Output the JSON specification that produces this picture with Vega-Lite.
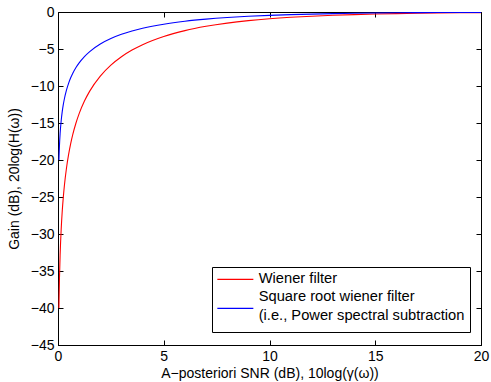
{
  "$schema": "https://vega.github.io/schema/vega-lite/v6.json",
  "width": 423,
  "height": 333,
  "autosize": "none",
  "padding": {"left": 58, "top": 12, "right": 10, "bottom": 37},
  "background": "white",
  "config": {
    "font": "Liberation Sans",
    "view": {"stroke": "black", "strokeWidth": 1},
    "axis": {"grid": false, "domainColor": "black", "tickColor": "black", "labelColor": "black", "titleColor": "black", "labelFontSize": 14, "titleFontSize": 14, "titleFontWeight": "normal", "tickSize": -5, "labelFlush": false}
  },
  "data": {"values": [
    {"x": 0.04365, "gain": -40.0, "s": "Wiener filter"},
    {"x": 0.05, "gain": -38.826, "s": "Wiener filter"},
    {"x": 0.07, "gain": -35.924, "s": "Wiener filter"},
    {"x": 0.1, "gain": -32.855, "s": "Wiener filter"},
    {"x": 0.15, "gain": -29.383, "s": "Wiener filter"},
    {"x": 0.2, "gain": -26.934, "s": "Wiener filter"},
    {"x": 0.25, "gain": -25.046, "s": "Wiener filter"},
    {"x": 0.3, "gain": -23.512, "s": "Wiener filter"},
    {"x": 0.4, "gain": -21.111, "s": "Wiener filter"},
    {"x": 0.5, "gain": -19.271, "s": "Wiener filter"},
    {"x": 0.6, "gain": -17.786, "s": "Wiener filter"},
    {"x": 0.7, "gain": -16.544, "s": "Wiener filter"},
    {"x": 0.85, "gain": -15.004, "s": "Wiener filter"},
    {"x": 1, "gain": -13.736, "s": "Wiener filter"},
    {"x": 1.25, "gain": -12.038, "s": "Wiener filter"},
    {"x": 1.5, "gain": -10.690, "s": "Wiener filter"},
    {"x": 2, "gain": -8.658, "s": "Wiener filter"},
    {"x": 2.5, "gain": -7.177, "s": "Wiener filter"},
    {"x": 3, "gain": -6.041, "s": "Wiener filter"},
    {"x": 3.5, "gain": -5.140, "s": "Wiener filter"},
    {"x": 4, "gain": -4.410, "s": "Wiener filter"},
    {"x": 5, "gain": -3.302, "s": "Wiener filter"},
    {"x": 6, "gain": -2.513, "s": "Wiener filter"},
    {"x": 7, "gain": -1.933, "s": "Wiener filter"},
    {"x": 8, "gain": -1.499, "s": "Wiener filter"},
    {"x": 9, "gain": -1.169, "s": "Wiener filter"},
    {"x": 10, "gain": -0.915, "s": "Wiener filter"},
    {"x": 11, "gain": -0.719, "s": "Wiener filter"},
    {"x": 12, "gain": -0.566, "s": "Wiener filter"},
    {"x": 13, "gain": -0.447, "s": "Wiener filter"},
    {"x": 14, "gain": -0.353, "s": "Wiener filter"},
    {"x": 15, "gain": -0.279, "s": "Wiener filter"},
    {"x": 16, "gain": -0.221, "s": "Wiener filter"},
    {"x": 17, "gain": -0.175, "s": "Wiener filter"},
    {"x": 18, "gain": -0.139, "s": "Wiener filter"},
    {"x": 19, "gain": -0.110, "s": "Wiener filter"},
    {"x": 20, "gain": -0.087, "s": "Wiener filter"},
    {"x": 0.04365, "gain": -20.0, "s": "sqrt"},
    {"x": 0.05, "gain": -19.413, "s": "sqrt"},
    {"x": 0.07, "gain": -17.962, "s": "sqrt"},
    {"x": 0.1, "gain": -16.428, "s": "sqrt"},
    {"x": 0.15, "gain": -14.692, "s": "sqrt"},
    {"x": 0.2, "gain": -13.467, "s": "sqrt"},
    {"x": 0.25, "gain": -12.523, "s": "sqrt"},
    {"x": 0.3, "gain": -11.756, "s": "sqrt"},
    {"x": 0.4, "gain": -10.556, "s": "sqrt"},
    {"x": 0.5, "gain": -9.636, "s": "sqrt"},
    {"x": 0.6, "gain": -8.893, "s": "sqrt"},
    {"x": 0.7, "gain": -8.272, "s": "sqrt"},
    {"x": 0.85, "gain": -7.502, "s": "sqrt"},
    {"x": 1, "gain": -6.868, "s": "sqrt"},
    {"x": 1.25, "gain": -6.019, "s": "sqrt"},
    {"x": 1.5, "gain": -5.345, "s": "sqrt"},
    {"x": 2, "gain": -4.329, "s": "sqrt"},
    {"x": 2.5, "gain": -3.589, "s": "sqrt"},
    {"x": 3, "gain": -3.021, "s": "sqrt"},
    {"x": 3.5, "gain": -2.570, "s": "sqrt"},
    {"x": 4, "gain": -2.205, "s": "sqrt"},
    {"x": 5, "gain": -1.651, "s": "sqrt"},
    {"x": 6, "gain": -1.256, "s": "sqrt"},
    {"x": 7, "gain": -0.967, "s": "sqrt"},
    {"x": 8, "gain": -0.749, "s": "sqrt"},
    {"x": 9, "gain": -0.584, "s": "sqrt"},
    {"x": 10, "gain": -0.458, "s": "sqrt"},
    {"x": 11, "gain": -0.359, "s": "sqrt"},
    {"x": 12, "gain": -0.283, "s": "sqrt"},
    {"x": 13, "gain": -0.223, "s": "sqrt"},
    {"x": 14, "gain": -0.176, "s": "sqrt"},
    {"x": 15, "gain": -0.140, "s": "sqrt"},
    {"x": 16, "gain": -0.110, "s": "sqrt"},
    {"x": 17, "gain": -0.088, "s": "sqrt"},
    {"x": 18, "gain": -0.069, "s": "sqrt"},
    {"x": 19, "gain": -0.055, "s": "sqrt"},
    {"x": 20, "gain": -0.044, "s": "sqrt"}
  ]},
  "layer": [
    {
      "mark": {"type": "line", "strokeWidth": 1.1, "interpolate": "monotone", "clip": true},
      "encoding": {
        "x": {"field": "x", "type": "quantitative", "scale": {"domain": [0, 20], "nice": false, "zero": false},
              "axis": {"values": [0, 5, 10, 15, 20], "title": "A\u2212posteriori SNR (dB), 10log(\u03b3(\u03c9))", "labelPadding": 9, "titlePadding": 3}},
        "y": {"field": "gain", "type": "quantitative", "scale": {"domain": [-45, 0], "nice": false, "zero": false},
              "axis": {"values": [0, -5, -10, -15, -20, -25, -30, -35, -40, -45], "title": "Gain (dB), 20log(H(\u03c9))", "labelPadding": 9, "titlePadding": 9}},
        "color": {"field": "s", "type": "nominal",
                  "scale": {"domain": ["Wiener filter", "sqrt"], "range": ["#ff0000", "#0000ff"]},
                  "legend": {"title": null, "orient": "none", "legendX": 154, "legendY": 255,
                             "symbolType": "M0,-1M-3,0H3M0,2.57", "symbolSize": 144, "symbolStrokeWidth": 1.2, "symbolFillColor": "transparent",
                             "symbolOffset": 11,
                             "labelFontSize": 14.7, "labelColor": "black", "labelOffset": 16, "labelLimit": 400,
                             "labelExpr": "datum.label == 'sqrt' ? ['Square root wiener filter', '(i.e., Power spectral subtraction'] : datum.label",
                             "strokeColor": "black", "fillColor": "white", "padding": 5, "rowPadding": -9,
                             "encode": {"labels": {"update": {"dy": {"signal": "datum.value == 'sqrt' ? -11 : 0"}, "lineHeight": {"value": 18.5}}}}}}
      }
    },
    {
      "mark": {"type": "line", "opacity": 0},
      "encoding": {
        "x": {"field": "x", "type": "quantitative", "scale": {"domain": [0, 20], "nice": false, "zero": false},
              "axis": {"orient": "top", "values": [0, 5, 10, 15, 20], "labels": false, "title": null, "domain": false}},
        "y": {"field": "gain", "type": "quantitative", "scale": {"domain": [-45, 0], "nice": false, "zero": false},
              "axis": {"orient": "right", "values": [0, -5, -10, -15, -20, -25, -30, -35, -40, -45], "labels": false, "title": null, "domain": false}}
      }
    }
  ],
  "resolve": {"axis": {"x": "independent", "y": "independent"}}
}
